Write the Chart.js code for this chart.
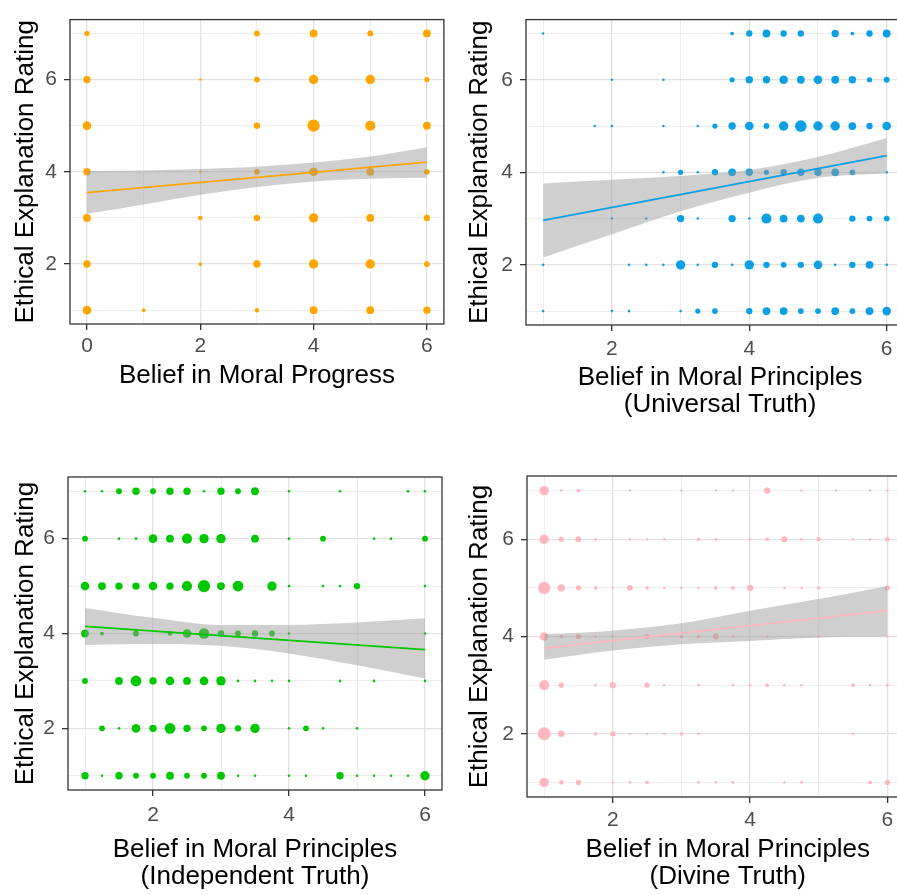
<!DOCTYPE html>
<html><head><meta charset="utf-8">
<script src="https://cdn.jsdelivr.net/npm/chart.js@4.4.1/dist/chart.umd.min.js"></script>
<style>
html,body{margin:0;padding:0;background:#fff;overflow:hidden;width:897px;height:894px;position:relative;}
.p{position:absolute;}
</style></head><body>
<div class="p" style="left:0;top:0"><canvas id="c1" width="450" height="400"></canvas></div>
<div class="p" style="left:450px;top:0"><canvas id="c2" width="470" height="430"></canvas></div>
<div class="p" style="left:0;top:450px"><canvas id="c3" width="450" height="444"></canvas></div>
<div class="p" style="left:450px;top:450px"><canvas id="c4" width="485" height="444"></canvas></div>
<script>
// ---------- data ----------
const yLevels = [7, 6, 5, 4, 3, 2, 1];              // rows of the count grids
const progressX = [0, 1, 2, 3, 4, 5, 6];            // columns, panel 1
const principleX = [1, 1.25, 1.5, 1.75, 2, 2.25, 2.5, 2.75, 3, 3.25, 3.5, 3.75, 4, 4.25, 4.5, 4.75, 5, 5.25, 5.5, 5.75, 6];

const progressCounts = [
  [4, 0, 0, 5, 9, 5, 9],
  [8, 0, 1, 5, 13, 13, 4],
  [11, 0, 0, 6, 22, 15, 9],
  [8, 0, 1, 5, 11, 9, 5],
  [9, 0, 3, 6, 13, 9, 6],
  [8, 0, 2, 8, 13, 13, 5],
  [11, 2, 0, 3, 9, 9, 8]
];
const universalCounts = [
  [1,0,0,0,0,0,0,0,0,0,0,2,6,9,6,6,0,8,2,6,9],
  [0,0,0,0,1,0,0,1,0,0,0,4,8,8,11,9,11,9,8,4,5],
  [0,0,0,1,1,0,0,1,0,1,4,8,11,5,13,20,13,13,9,6,11],
  [0,0,0,0,0,0,0,1,4,1,6,9,8,4,6,8,8,9,5,0,1],
  [0,0,0,0,1,0,1,0,8,1,0,8,1,15,9,9,15,0,6,5,5],
  [1,0,0,0,0,1,1,1,13,1,6,1,13,6,5,6,11,1,6,9,1],
  [1,0,0,0,1,1,0,0,1,4,5,0,6,9,9,5,5,9,5,9,11]
];
const independentCounts = [
  [1,1,5,8,5,8,8,1,8,5,9,0,1,0,0,1,0,0,0,1,1],
  [5,0,1,1,11,9,15,13,13,0,9,0,1,0,5,0,0,1,1,0,5],
  [11,9,8,8,11,8,15,22,9,17,0,13,1,0,1,1,6,0,0,0,1],
  [9,2,0,5,0,3,11,17,6,5,6,5,1,0,0,0,0,0,0,0,1],
  [5,0,9,17,8,11,9,11,13,1,1,1,1,0,0,1,0,1,0,0,1],
  [0,5,1,11,8,17,8,5,13,6,13,0,1,5,1,0,1,0,0,0,0],
  [8,1,8,5,5,9,5,5,9,1,1,0,1,1,0,8,1,1,1,1,13]
];
const divineCounts = [
  [13,1,2,0,0,1,0,0,1,0,1,1,0,6,0,1,0,1,0,1,1],
  [13,4,5,1,0,1,1,1,0,2,1,0,1,2,5,1,3,0,1,1,3],
  [22,8,4,2,1,5,2,1,1,1,2,2,6,0,1,1,2,0,0,0,4],
  [11,2,4,1,1,0,4,0,2,2,5,1,0,1,0,0,1,0,0,0,1],
  [15,4,0,1,6,0,4,1,0,1,0,1,1,2,1,1,0,0,2,1,1],
  [25,6,0,2,4,1,1,1,2,1,0,0,0,0,0,0,0,0,1,0,0],
  [13,3,4,0,1,1,2,0,0,1,1,1,0,0,1,1,0,0,0,2,4]
];

// fitted lines (end points) and confidence band edges
const progressLineX = [0, 6],  progressLine = [3.55, 4.21];
const progressBandX = [0, 1, 2, 3, 4, 5, 6];
const progressUpper = [4.02, 4.03, 4.06, 4.11, 4.20, 4.33, 4.53];
const progressLower = [3.09, 3.29, 3.50, 3.67, 3.79, 3.85, 3.87];

const principleLineX = [1, 6];
const principleBandX = [1, 2, 3, 4, 5, 6];
const universalLine = [2.96, 4.36];
const universalUpper = [3.76, 3.84, 3.92, 4.05, 4.33, 4.74];
const universalLower = [2.16, 2.66, 3.16, 3.56, 3.88, 3.98];
const independentLine = [4.15, 3.66];
const independentUpper = [4.54, 4.33, 4.18, 4.18, 4.23, 4.32];
const independentLower = [3.76, 3.78, 3.74, 3.58, 3.33, 3.05];
const divineLine = [3.76, 4.53];
const divineUpper = [4.05, 4.12, 4.27, 4.53, 4.77, 5.04];
const divineLower = [3.52, 3.71, 3.84, 3.91, 3.98, 4.00];

// ticks
const yTickValues = [1, 2, 3, 4, 5, 6, 7];
const yTickLabels = [2, 4, 6];
const progressXTickValues = [0, 1, 2, 3, 4, 5, 6];
const progressXTickLabels = [0, 2, 4, 6];
const principleXTickValues = [1, 2, 3, 4, 5, 6];
const principleXTickLabels = [2, 4, 6];

const yTitle = 'Ethical Explanation Rating';

// ---------- drawing ----------
const FONT = "'Liberation Sans', Arial, Helvetica, sans-serif";
const bubbleRadius = n => 1.3 * Math.sqrt(n);

const panelBorder = {
  id: 'panelBorder',
  afterDatasetsDraw(chart) {
    const {ctx, chartArea: a} = chart;
    ctx.save();
    ctx.strokeStyle = '#333333';
    ctx.lineWidth = 1.3;
    ctx.strokeRect(a.left, a.top, a.right - a.left, a.bottom - a.top);
    ctx.restore();
  }
};

function bubbles(xs, counts) {
  const pts = [];
  counts.forEach((row, ri) => row.forEach((n, ci) => {
    if (n > 0) pts.push({x: xs[ci], y: yLevels[ri], r: bubbleRadius(n)});
  }));
  return pts;
}
const pairs = (xs, ys) => xs.map((x, i) => ({x, y: ys[i]}));

function gridOpts(labels) {
  return {
    color: c => (c.tick && labels.includes(c.tick.value)) ? '#E2E2E2' : '#ECECEC',
    lineWidth: c => (c.tick && labels.includes(c.tick.value)) ? 1.3 : 0.9,
    tickColor: c => (c.tick && labels.includes(c.tick.value)) ? '#333333' : 'rgba(0,0,0,0)',
    tickLength: 6,
    tickWidth: 1.3,
    drawTicks: true
  };
}

function makePanel(id, o) {
  new Chart(document.getElementById(id), {
    type: 'bubble',
    data: {
      datasets: [
        {type: 'line', data: pairs(o.lineX, o.line), borderColor: o.color, borderWidth: 1.8,
         pointRadius: 0, fill: false, order: 0},
        {type: 'line', data: pairs(o.bandX, o.upper), borderColor: 'rgba(0,0,0,0)', borderWidth: 0,
         pointRadius: 0, fill: false, order: 1, cubicInterpolationMode: 'monotone'},
        {type: 'line', data: pairs(o.bandX, o.lower), borderColor: 'rgba(0,0,0,0)', borderWidth: 0,
         pointRadius: 0, fill: '-1', backgroundColor: 'rgba(153,153,153,0.47)', order: 1,
         cubicInterpolationMode: 'monotone'},
        {type: 'bubble', data: bubbles(o.xs, o.counts), backgroundColor: o.color, borderWidth: 0, order: 2}
      ]
    },
    options: {
      responsive: false, animation: false, events: [],
      layout: {padding: o.pad},
      plugins: {legend: {display: false}, tooltip: {enabled: false}},
      scales: {
        x: {
          type: 'linear', min: o.xmin, max: o.xmax,
          afterBuildTicks: s => { s.ticks = o.xTicks.map(v => ({value: v})); },
          afterFit: s => { s.height = o.xH; },
          ticks: {callback: v => o.xLabels.includes(v) ? String(v) : '', autoSkip: false, maxRotation: 0,
                  font: {family: FONT, size: 21}, color: '#4D4D4D', padding: o.xTickPad},
          grid: gridOpts(o.xLabels),
          border: {display: false},
          title: {display: true, text: o.xTitle, color: '#000',
                  font: {family: FONT, size: 26, lineHeight: 27 / 26},
                  padding: {top: 0, bottom: o.xTitlePad}}
        },
        y: {
          type: 'linear', min: 0.7, max: 7.3,
          afterBuildTicks: s => { s.ticks = yTickValues.map(v => ({value: v})); },
          afterFit: s => { s.width = o.yW; },
          ticks: {callback: v => yTickLabels.includes(v) ? String(v) : '', autoSkip: false,
                  font: {family: FONT, size: 21}, color: '#4D4D4D', padding: 7},
          grid: gridOpts(yTickLabels),
          border: {display: false},
          title: {display: true, text: yTitle, color: '#000',
                  font: {family: FONT, size: 26, lineHeight: 1},
                  padding: {top: o.yTitlePad, bottom: 0}}
        }
      }
    },
    plugins: [panelBorder]
  });
}

makePanel('c1', {
  color: '#FFA500', xs: progressX, counts: progressCounts,
  lineX: progressLineX, line: progressLine, bandX: progressBandX, upper: progressUpper, lower: progressLower,
  xmin: -0.3, xmax: 6.3, xTicks: progressXTickValues, xLabels: progressXTickLabels,
  xTitle: 'Belief in Moral Progress',
  pad: {top: 8, right: 4, left: 0, bottom: 0}, yW: 70, xH: 76, xTickPad: 4, xTitlePad: 11, yTitlePad: 13
});
makePanel('c2', {
  color: '#0BA0E3', xs: principleX, counts: universalCounts,
  lineX: principleLineX, line: universalLine, bandX: principleBandX, upper: universalUpper, lower: universalLower,
  xmin: 0.75, xmax: 6.4, xTicks: principleXTickValues, xLabels: principleXTickLabels,
  xTitle: ['Belief in Moral Principles', '(Universal Truth)'],
  pad: {top: 9, right: 4, left: 0, bottom: 0}, yW: 76, xH: 105, xTickPad: 6, xTitlePad: 12, yTitlePad: 17
});
makePanel('c3', {
  color: '#00C800', xs: principleX, counts: independentCounts,
  lineX: principleLineX, line: independentLine, bandX: principleBandX, upper: independentUpper, lower: independentLower,
  xmin: 0.75, xmax: 6.25, xTicks: principleXTickValues, xLabels: principleXTickLabels,
  xTitle: ['Belief in Moral Principles', '(Independent Truth)'],
  pad: {top: 27, right: 8, left: 0, bottom: 0}, yW: 68, xH: 104, xTickPad: 7, xTitlePad: 4, yTitlePad: 13
});
makePanel('c4', {
  color: '#FFB6C1', xs: principleX, counts: divineCounts,
  lineX: principleLineX, line: divineLine, bandX: principleBandX, upper: divineUpper, lower: divineLower,
  xmin: 0.75, xmax: 6.6, xTicks: principleXTickValues, xLabels: principleXTickLabels,
  xTitle: ['Belief in Moral Principles', '(Divine Truth)'],
  pad: {top: 26, right: 4, left: 0, bottom: 0}, yW: 77, xH: 97, xTickPad: 5, xTitlePad: 4, yTitlePad: 17
});
</script>
</body></html>
